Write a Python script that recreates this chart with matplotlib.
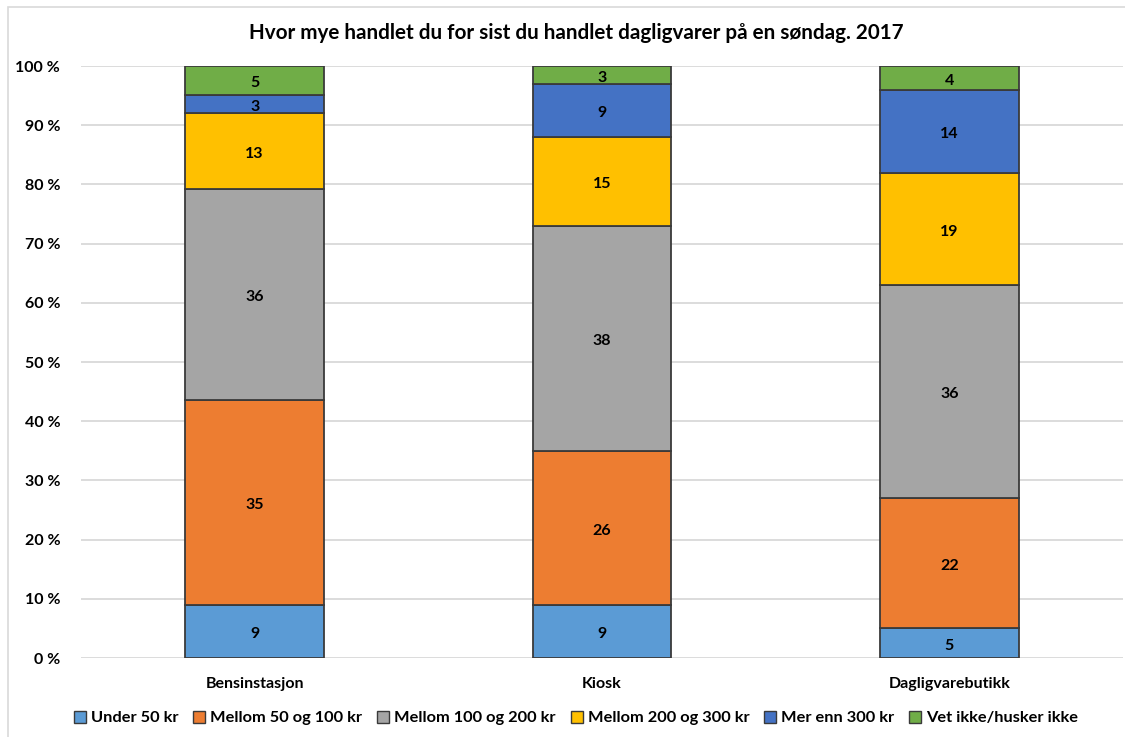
import matplotlib
matplotlib.use("Agg")
import matplotlib.pyplot as plt
from matplotlib.patches import Patch, Rectangle
import numpy as np

plt.rcParams["font.family"] = ["Lato", "DejaVu Sans"]
plt.rcParams["font.weight"] = "bold"

title = "Hvor mye handlet du for sist du handlet dagligvarer på en søndag. 2017"
categories = ["Bensinstasjon", "Kiosk", "Dagligvarebutikk"]
series_names = ["Under 50 kr", "Mellom 50 og 100 kr", "Mellom 100 og 200 kr",
                "Mellom 200 og 300 kr", "Mer enn 300 kr", "Vet ikke/husker ikke"]
under_50 = [9, 9, 5]
mellom_50_100 = [35, 26, 22]
mellom_100_200 = [36, 38, 36]
mellom_200_300 = [13, 15, 19]
mer_enn_300 = [3, 9, 14]
vet_ikke = [5, 3, 4]
colors = ["#5B9BD5", "#ED7D31", "#A5A5A5", "#FFC000", "#4472C4", "#70AD47"]

series = np.array([under_50, mellom_50_100, mellom_100_200,
                   mellom_200_300, mer_enn_300, vet_ikke], dtype=float)
shares = series / series.sum(axis=0) * 100  # 100 % stacked

fig = plt.figure(figsize=(11.25, 7.37), dpi=100)
fig.patches.append(Rectangle((8 / 1125, -0.05), 1.1, 1 - 7 / 737 + 0.05,
                             transform=fig.transFigure, fill=False,
                             edgecolor="#d9d9d9", linewidth=1.2))
ax = fig.add_axes([81 / 1125, 79 / 737, 1042 / 1125, 592 / 737])

x = np.arange(len(categories))
bottom = np.zeros(len(categories))
for vals, raw, name, col in zip(shares, series, series_names, colors):
    ax.bar(x, vals, width=0.4, bottom=bottom, color=col,
           edgecolor="#3a3a3a", linewidth=1.3, label=name, zorder=3)
    for xi, b, v, r in zip(x, bottom, vals, raw):
        ax.annotate(f"{int(r)}", (xi, b + v / 2), xytext=(0, -2),
                    textcoords="offset points", ha="center", va="center",
                    fontsize=11.5, fontweight="bold", color="black", zorder=4)
    bottom += vals

ax.set_xlim(-0.5, len(categories) - 0.5)
ax.set_ylim(0, 100)
ax.set_yticks(np.arange(0, 101, 10))
ax.set_yticklabels([f"{v} %" for v in range(0, 101, 10)], fontsize=11.5,
                   fontweight="bold")
ax.set_xticks(x)
ax.set_xticklabels(categories, fontsize=11.5, fontweight="bold")
ax.tick_params(axis="both", length=0)
ax.tick_params(axis="y", pad=15)
ax.tick_params(axis="x", pad=14)
ax.yaxis.grid(True, color="#d9d9d9", linewidth=1.3, zorder=0)
for s in ax.spines.values():
    s.set_visible(False)

fig.text(0.512, 1 - 33 / 737, title, ha="center", va="center",
         fontsize=14.9, fontweight="bold")

handles = [Patch(facecolor=c, edgecolor="#3a3a3a", linewidth=1.0) for c in colors]
fig.legend(handles, series_names, loc="center", bbox_to_anchor=(0.512, 1 - 718 / 737),
           ncol=6, frameon=False, handlelength=0.75, handleheight=0.75,
           handletextpad=0.3, columnspacing=0.9, prop={"weight": "bold", "size": 11.8})

fig.savefig("out.png", dpi=100)
